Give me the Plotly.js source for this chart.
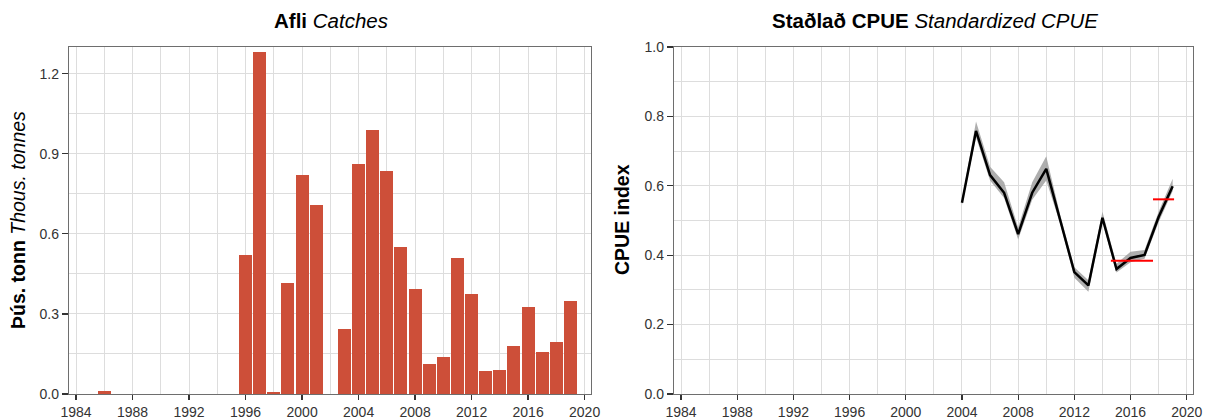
<!DOCTYPE html>
<html>
<head>
<meta charset="utf-8">
<script src="https://cdn.plot.ly/plotly-3.0.1.min.js"></script>
<style>html,body{margin:0;padding:0;background:#fff;}#chart{width:1209px;height:419px;}</style>
</head>
<body>
<div id="chart"></div>
<script>
// Catches (thousand tonnes)
var catchYears = [1986, 1996, 1997, 1998, 1999, 2000, 2001, 2003, 2004, 2005, 2006, 2007, 2008, 2009, 2010, 2011, 2012, 2013, 2014, 2015, 2016, 2017, 2018, 2019];
var catchValues = [0.01, 0.522, 1.282, 0.007, 0.415, 0.821, 0.707, 0.245, 0.86, 0.99, 0.836, 0.552, 0.395, 0.114, 0.139, 0.51, 0.374, 0.085, 0.09, 0.18, 0.327, 0.159, 0.194, 0.349];

// Standardized CPUE
var cpueYears = [2004, 2005, 2006, 2007, 2008, 2009, 2010, 2011, 2012, 2013, 2014, 2015, 2016, 2017, 2018, 2019];
var cpueIndex = [0.551, 0.758, 0.631, 0.58, 0.461, 0.58, 0.649, 0.50, 0.351, 0.313, 0.508, 0.36, 0.392, 0.401, 0.51, 0.599];
var cpueUpper = [0.56, 0.785, 0.655, 0.61, 0.48, 0.61, 0.685, 0.515, 0.365, 0.328, 0.525, 0.375, 0.41, 0.415, 0.525, 0.62];
var cpueLower = [0.545, 0.74, 0.615, 0.565, 0.445, 0.56, 0.615, 0.49, 0.335, 0.295, 0.495, 0.35, 0.38, 0.39, 0.495, 0.585];

// Reference period means (red segments)
var ref1X = [2014.6, 2017.6];
var ref1Y = [0.384, 0.384];
var ref2X = [2017.6, 2019.1];
var ref2Y = [0.561, 0.561];

var FONT = 'Liberation Sans, Arial, sans-serif';
var gridCol = '#dddddd';
var lineCol = '#6e6e6e';

var traces = [
  {type: 'bar', x: catchYears, y: catchValues, width: 0.92,
   marker: {color: '#CD4F39', line: {width: 0}}, xaxis: 'x', yaxis: 'y', hoverinfo: 'x+y'},
  {type: 'scatter', mode: 'lines', x: cpueYears.concat(cpueYears.slice().reverse()),
   y: cpueUpper.concat(cpueLower.slice().reverse()), fill: 'toself',
   fillcolor: 'rgba(160,160,160,0.85)', line: {width: 0}, xaxis: 'x2', yaxis: 'y2', hoverinfo: 'skip'},
  {type: 'scatter', mode: 'lines', x: cpueYears, y: cpueIndex,
   line: {color: '#000', width: 2.5}, xaxis: 'x2', yaxis: 'y2'},
  {type: 'scatter', mode: 'lines', x: ref1X, y: ref1Y, line: {color: '#ff0000', width: 2}, xaxis: 'x2', yaxis: 'y2'},
  {type: 'scatter', mode: 'lines', x: ref2X, y: ref2Y, line: {color: '#ff0000', width: 2}, xaxis: 'x2', yaxis: 'y2'}
];

function xax(domain, anchor) {
  return {domain: domain, anchor: anchor, range: [1983.5, 2020.45], tick0: 1984, dtick: 4,
    ticks: 'outside', ticklen: 5, tickwidth: 1.3, tickcolor: '#333',
    showline: true, mirror: true, linecolor: lineCol, linewidth: 1.2,
    showgrid: true, gridcolor: gridCol, gridwidth: 1, zeroline: false,
    minor: {dtick: 2, tick0: 1984, showgrid: true, gridcolor: gridCol, gridwidth: 1, ticks: ''},
    tickfont: {family: FONT, size: 14, color: '#333'}};
}
function yax(domain, anchor, range, dtick, minor, fmt) {
  return {domain: domain, anchor: anchor, range: range, tick0: 0, dtick: dtick, tickformat: fmt,
    ticks: 'outside', ticklen: 6, tickwidth: 1.3, tickcolor: '#333',
    showline: true, mirror: true, linecolor: lineCol, linewidth: 1.2,
    showgrid: true, gridcolor: gridCol, gridwidth: 1, zeroline: false,
    minor: {dtick: minor, tick0: 0, showgrid: true, gridcolor: gridCol, gridwidth: 1, ticks: ''},
    tickfont: {family: FONT, size: 14, color: '#333'}};
}

var yDom = [0.0597, 0.8878];
var layout = {
  width: 1209, height: 419,
  margin: {l: 0, r: 0, t: 0, b: 0},
  paper_bgcolor: '#fff', plot_bgcolor: '#fff',
  showlegend: false,
  bargap: 0,
  xaxis: xax([0.0571, 0.4888], 'y'),
  yaxis: yax(yDom, 'x', [0, 1.3], 0.3, 0.15, '.1f'),
  xaxis2: xax([0.5575, 0.9868], 'y2'),
  yaxis2: yax(yDom, 'x2', [0, 1.0], 0.2, 0.1, '.1f'),
  annotations: [
    {text: '<b>Afli</b> <i>Catches</i>', xref: 'paper', yref: 'paper', x: 0.2735, y: 0.952,
     xanchor: 'center', yanchor: 'middle',
     showarrow: false, font: {family: FONT, size: 20.5, color: '#000'}},
    {text: '<b>Staðlað CPUE</b> <i>Standardized CPUE</i>', xref: 'paper', yref: 'paper', x: 0.7735, y: 0.952,
     xanchor: 'center', yanchor: 'middle',
     showarrow: false, font: {family: FONT, size: 20.5, color: '#000'}},
    {text: '<b>Þús. tonn</b> <i>Thous. tonnes</i>', xref: 'paper', yref: 'paper', x: 0.0149, y: 0.475,
     xanchor: 'center', yanchor: 'middle',
     textangle: -90, showarrow: false, font: {family: FONT, size: 19.5, color: '#000'}},
    {text: '<b>CPUE index</b>', xref: 'paper', yref: 'paper', x: 0.5145, y: 0.475,
     xanchor: 'center', yanchor: 'middle',
     textangle: -90, showarrow: false, font: {family: FONT, size: 19.5, color: '#000'}}
  ]
};

Plotly.newPlot('chart', traces, layout, {staticPlot: true, displayModeBar: false});
</script>
</body>
</html>
